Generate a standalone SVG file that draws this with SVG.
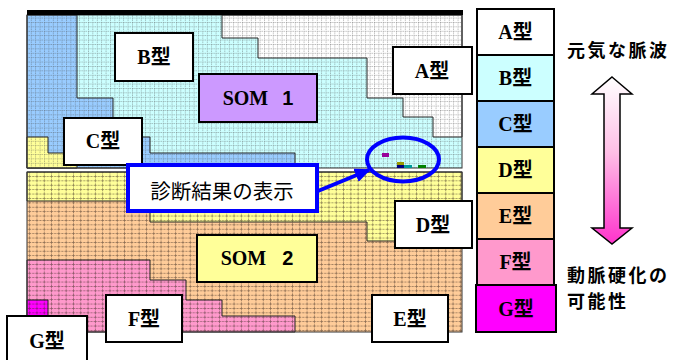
<svg xmlns="http://www.w3.org/2000/svg" width="675" height="360" viewBox="0 0 675 360">
<style>
.reg{stroke:#222;stroke-width:1}
.box{fill:#fff;stroke:#000;stroke-width:2}
.lbl{font-family:"Liberation Serif","Noto Sans CJK JP",serif;font-weight:bold;font-size:20px;text-anchor:middle;fill:#000}
.side{font-family:"Noto Sans CJK JP","Noto Sans",sans-serif;font-weight:bold;font-size:18px;letter-spacing:2.5px;fill:#000}
.leg{stroke:#000;stroke-width:2}
</style>
<defs>
<pattern id="g1" width="4.4" height="4.4" patternUnits="userSpaceOnUse">
<path d="M0 0.3H4.4M0.3 0V4.4" stroke="#444" stroke-width="0.7" stroke-dasharray="1.4 0.8" opacity="0.6"/>
</pattern>
<pattern id="g2" width="7.3" height="4.4" patternUnits="userSpaceOnUse">
<path d="M0 0.4H7.3M0.4 0V4.4" stroke="#3a2a20" stroke-width="0.8" stroke-dasharray="2 1" opacity="0.6"/>
</pattern>
<linearGradient id="ag" x1="0" y1="0" x2="0" y2="1">
<stop offset="0" stop-color="#ffffff"/>
<stop offset="0.45" stop-color="#ffbfe6"/>
<stop offset="1" stop-color="#ff33cc"/>
</linearGradient>
<marker id="ah" markerWidth="16" markerHeight="14" refX="14" refY="7" orient="auto" markerUnits="userSpaceOnUse">
<path d="M0 0L16 7L0 14Z" fill="#0000ff"/>
</marker>
</defs>

<g id="som1">
<rect x="27" y="15" width="435" height="153" fill="#ccffff"/>
<polygon class="reg" fill="#ffffff" points="222,15 462,15 462,137 433,137 433,117 403,117 403,98 367,98 367,58 258,58 258,38 222,38"/>
<polygon class="reg" fill="#99ccff" points="27,15 77,15 77,98 113,98 113,137 150,137 150,153 295,153 295,168 27,168"/>
<polygon class="reg" fill="#ffff99" points="27,137 48,137 48,153 64,153 64,165 77,165 77,168 27,168"/>
<rect x="27" y="15" width="435" height="153" fill="url(#g1)"/>
<rect x="27" y="15" width="435" height="153" fill="none" stroke="#333" stroke-width="1"/>
<rect x="27" y="10" width="436" height="5" fill="#000"/>
<rect x="382" y="153" width="7" height="4" fill="#990099"/>
<rect x="397" y="162" width="7" height="3" fill="#999900"/>
<rect x="397" y="165" width="7" height="3" fill="#000080"/>
<rect x="404" y="165" width="8" height="3" fill="#009999"/>
<rect x="418" y="165" width="8" height="3" fill="#008000"/>
</g>

<g id="som2">
<rect x="27" y="172" width="435" height="160" fill="#ffcc99"/>
<polygon class="reg" fill="#ffff99" points="27,172 462,172 462,241 367,241 367,222 150,222 150,201 27,201"/>
<polygon class="reg" fill="#ff99cc" points="27,260 150,260 150,280 186,280 186,300 222,300 222,316 295,316 295,332 27,332"/>
<polygon class="reg" fill="#ff00ff" points="27,300 48,300 48,332 27,332"/>
<rect x="27" y="172" width="435" height="160" fill="url(#g2)"/>
<rect x="27" y="172" width="435" height="160" fill="none" stroke="#333" stroke-width="1"/>
</g>

<g id="nodeA"><rect class="box" x="393" y="47" width="79" height="47"/><text class="lbl" x="432" y="77.5">A型</text></g>
<g id="nodeB"><rect class="box" x="115" y="33" width="78" height="48"/><text class="lbl" x="154" y="64">B型</text></g>
<g id="nodeSOM1"><rect x="199" y="74" width="118" height="48" fill="#cc99ff" stroke="#000" stroke-width="2"/><text class="lbl" x="258" y="105" font-size="21"><tspan>SOM</tspan><tspan font-family="Liberation Sans,sans-serif" dx="14">1</tspan></text></g>
<g id="nodeC"><rect class="box" x="64" y="118" width="78" height="47"/><text class="lbl" x="103" y="148">C型</text></g>
<g id="nodeD"><rect class="box" x="395" y="201" width="77" height="47"/><text class="lbl" x="433" y="231.5">D型</text></g>
<g id="nodeSOM2"><rect x="197" y="235" width="120" height="47" fill="#ffff99" stroke="#000" stroke-width="2"/><text class="lbl" x="257" y="265" font-size="21"><tspan>SOM</tspan><tspan font-family="Liberation Sans,sans-serif" dx="16">2</tspan></text></g>
<g id="nodeE"><rect class="box" x="372" y="295" width="76" height="47"/><text class="lbl" x="410" y="325.5">E型</text></g>
<g id="nodeF"><rect class="box" x="106" y="295" width="76" height="47"/><text class="lbl" x="144" y="325.5">F型</text></g>
<g id="nodeG"><rect class="box" x="7" y="316" width="80" height="50"/><text class="lbl" x="47" y="348">G型</text></g>

<g id="result">
<rect x="128" y="165" width="189" height="46" fill="#fff" stroke="#0000ff" stroke-width="4"/>
<text x="222" y="199" font-family="Noto Sans CJK JP,sans-serif" font-size="20.5" text-anchor="middle" fill="#000">診断結果の表示</text>
</g>
<g id="highlight"><ellipse cx="403" cy="159.5" rx="36" ry="22" fill="none" stroke="#0000ff" stroke-width="4"/></g>

<g id="connectors">
<line x1="318" y1="191" x2="369" y2="170" stroke="#0000ff" stroke-width="4" marker-end="url(#ah)"/>
</g>

<g id="legend">
<g id="legA"><rect class="leg" x="477" y="9" width="77" height="46" fill="#ffffff"/><text class="lbl" x="515.5" y="39">A型</text></g>
<g id="legB"><rect class="leg" x="477" y="55" width="77" height="46" fill="#ccffff"/><text class="lbl" x="515.5" y="85">B型</text></g>
<g id="legC"><rect class="leg" x="477" y="101" width="77" height="46" fill="#99ccff"/><text class="lbl" x="515.5" y="131">C型</text></g>
<g id="legD"><rect class="leg" x="477" y="147" width="77" height="46" fill="#ffff99"/><text class="lbl" x="515.5" y="177">D型</text></g>
<g id="legE"><rect class="leg" x="477" y="193" width="77" height="46" fill="#ffcc99"/><text class="lbl" x="515.5" y="223">E型</text></g>
<g id="legF"><rect class="leg" x="477" y="239" width="77" height="46" fill="#ff99cc"/><text class="lbl" x="515.5" y="269">F型</text></g>
<g id="legG"><rect class="leg" x="476" y="285" width="80" height="47" fill="#ff00ff"/><text class="lbl" x="516" y="316">G型</text></g>
</g>

<g id="scale">
<polygon points="612,77 632,94 620,94 620,228 632,228 612,244 592,228 604,228 604,94 592,94" fill="url(#ag)" stroke="#000" stroke-width="1.5"/>
<text class="side" x="567" y="57">元気な脈波</text>
<text class="side" x="567" y="282">動脈硬化の</text>
<text class="side" x="567" y="308">可能性</text>
</g>
</svg>
